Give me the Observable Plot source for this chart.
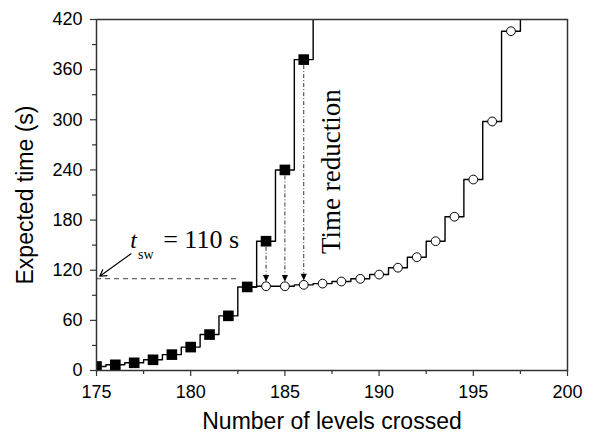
<!DOCTYPE html>
<html>
<head>
<meta charset="utf-8">
<script src="https://cdn.jsdelivr.net/npm/d3@7"></script>
<script src="https://cdn.jsdelivr.net/npm/@observablehq/plot@0.6"></script>
<style>
  body { margin: 0; background: #fff; }
  svg { display: block; }
</style>
</head>
<body>
<div id="chart"></div>
<script>
// Expected time to cross each level, without switching (filled squares)
const levels = [175, 176, 177, 178, 179, 180, 181, 182, 183, 184, 185, 186, 187];
const timeBefore = [4.8, 6.8, 9.2, 12.8, 19, 28, 43, 65.4, 100, 154.7, 240, 372, 600];

// Expected time once switching is applied from the switch level on (open circles)
const reducedLevels = [184, 185, 186, 187, 188, 189, 190, 191, 192, 193, 194, 195, 196, 197, 198];
const timeAfter = [100.8, 100.8, 102.5, 104, 106.5, 109.7, 114.8, 123, 135.6, 154.7, 184, 228.5, 298, 406, 580];

// Switching time and the levels where the reduction is highlighted
const tsw = 110;
const switchLevel = 183;
const arrowLevels = [184, 185, 186];

// Axis ticks
const xTicks = [175, 180, 185, 190, 195, 200];
const xMinorTicks = [177.5, 182.5, 187.5, 192.5, 197.5];
const yTicks = [0, 60, 120, 180, 240, 300, 360, 420];
const yMinorTicks = [30, 90, 150, 210, 270, 330, 390];

const xTitle = "Number of levels crossed";
const yTitle = "Expected time (s)";
const reductionLabel = "Time reduction";

const before = levels.map((x, i) => ({x, y: timeBefore[i]}));
const after = reducedLevels.map((x, i) => ({x, y: timeAfter[i]}));
const afterLine = [before.find(d => d.x === switchLevel), ...after];
const arrows = arrowLevels.map(x => ({
  x,
  from: before.find(d => d.x === x).y,
  to: after.find(d => d.x === x).y
}));

// Filled down-pointing triangle used as arrowhead
const downTriangle = {
  draw(ctx, size) {
    const r = Math.sqrt(size / Math.PI);
    ctx.moveTo(-0.9 * r, -r);
    ctx.lineTo(0.9 * r, -r);
    ctx.lineTo(0, r);
    ctx.closePath();
  }
};

const sans = "'Liberation Sans', Arial, Helvetica, sans-serif";
const serif = "'Liberation Serif', 'Times New Roman', Times, serif";
const axisColor = "#333";

const chart = Plot.plot({
  width: 595,
  height: 435,
  marginLeft: 96,
  marginRight: 28,
  marginTop: 19,
  marginBottom: 65,
  style: {fontFamily: sans, background: "#fff", color: "#000"},
  x: {domain: [175, 200]},
  y: {domain: [0, 420]},
  marks: [
    // minor and major ticks
    Plot.axisX({ticks: xMinorTicks, tickSize: 4, tickFormat: () => "", label: null, stroke: axisColor, strokeWidth: 1.2}),
    Plot.axisX({ticks: xTicks, tickSize: 6, tickPadding: 9, fontSize: 18, label: null, stroke: axisColor, strokeWidth: 1.2, fill: "#000"}),
    Plot.axisY({ticks: yMinorTicks, tickSize: 4, tickFormat: () => "", label: null, stroke: axisColor, strokeWidth: 1.2}),
    Plot.axisY({ticks: yTicks, tickSize: 6, tickPadding: 8, fontSize: 18, label: null, stroke: axisColor, strokeWidth: 1.2, fill: "#000"}),

    // switching-time reference line
    Plot.ruleY([tsw], {x1: levels[0], x2: switchLevel, insetRight: 7, stroke: "#666", strokeWidth: 1.2, strokeDasharray: "5,4"}),

    // step curves
    Plot.line(before, {x: "x", y: "y", curve: "step", stroke: "#000", strokeWidth: 1.4, clip: true}),
    Plot.line(afterLine, {x: "x", y: "y", curve: "step", stroke: "#000", strokeWidth: 1.4, clip: true}),

    // reduction arrows
    Plot.ruleX(arrows, {x: "x", y1: "from", y2: "to", insetTop: 6, insetBottom: 11, stroke: "#333", strokeWidth: 1, strokeDasharray: "4,2,1,2"}),
    Plot.dot(arrows, {x: "x", y: "to", symbol: downTriangle, r: 3.4, dy: -7.8, fill: "#000", stroke: "none"}),

    // markers
    Plot.dot(before, {x: "x", y: "y", symbol: "square", r: 6, fill: "#000", stroke: "none", clip: true}),
    Plot.dot(after, {x: "x", y: "y", symbol: "circle", r: 4.4, fill: "#fff", stroke: "#000", strokeWidth: 1, clip: true}),

    // t_sw annotation
    Plot.arrow([0], {x1: 176.83, y1: 139.6, x2: levels[0], y2: tsw, insetEnd: 4, headLength: 9, stroke: "#000", strokeWidth: 1.2}),
    Plot.text(["t"], {x: 176.79, y: 146, text: d => d, textAnchor: "start", lineAnchor: "bottom", fontFamily: serif, fontStyle: "italic", fontSize: 24, fill: "#000"}),
    Plot.text(["sw"], {x: 177.2, y: 134, text: d => d, textAnchor: "start", lineAnchor: "bottom", fontFamily: serif, fontSize: 14, fill: "#000"}),
    Plot.text([`= ${tsw} s`], {x: 178.54, y: 146, text: d => d, textAnchor: "start", lineAnchor: "bottom", fontFamily: serif, fontSize: 26, fill: "#000"}),

    // vertical "Time reduction" label
    Plot.text([reductionLabel], {x: 187.93, y: 238, text: d => d, rotate: -90, textAnchor: "middle", lineAnchor: "bottom", fontFamily: serif, fontSize: 27, fill: "#000"}),

    // axis titles
    Plot.text([xTitle], {frameAnchor: "bottom", dy: 58, text: d => d, textAnchor: "middle", lineAnchor: "bottom", fontSize: 23, fill: "#000"}),
    Plot.text([yTitle], {frameAnchor: "left", dx: -64, text: d => d, rotate: -90, textAnchor: "middle", lineAnchor: "bottom", fontSize: 23, fill: "#000"}),

    Plot.frame({stroke: axisColor, strokeWidth: 1.5})
  ]
});

document.getElementById("chart").appendChild(chart);
</script>
</body>
</html>
